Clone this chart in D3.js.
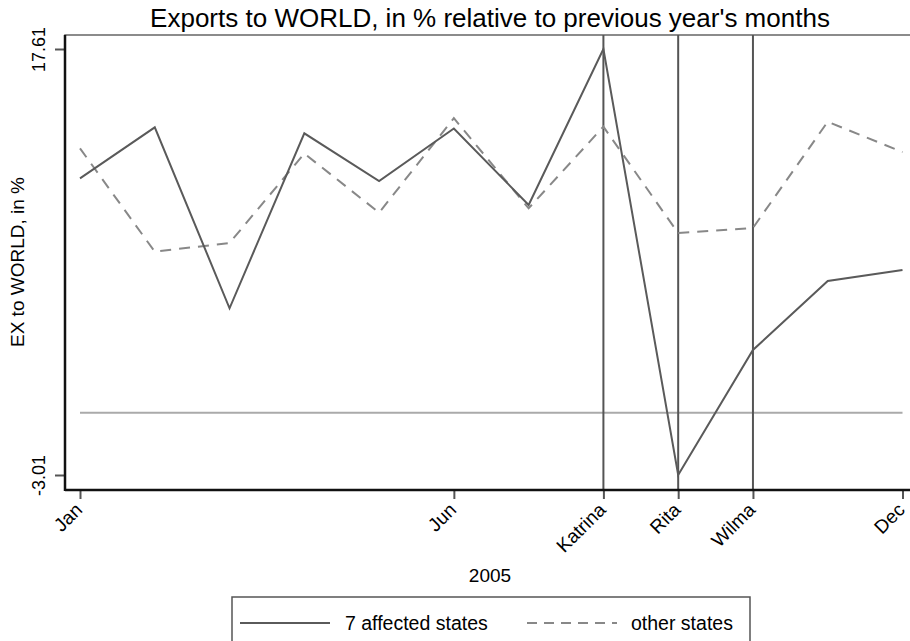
<!DOCTYPE html>
<html>
<head>
<meta charset="utf-8">
<script src="https://cdn.jsdelivr.net/npm/d3@7"></script>
<style>
  body { margin: 0; background: #fff; }
  text { font-family: "Liberation Sans", Arial, sans-serif; fill: #000; }
</style>
</head>
<body>
<div id="chart"></div>
<script>
// months 1..12 of 2005
var months = [1, 2, 3, 4, 5, 6, 7, 8, 9, 10, 11, 12];
var affected = [11.35, 13.82, 5.06, 13.53, 11.22, 13.76, 10.06, 17.61, -3.01, 3.04, 6.38, 6.91];
var others = [12.80, 7.80, 8.22, 12.55, 9.69, 14.26, 9.90, 13.85, 8.70, 8.95, 14.09, 12.62];
var tickMonths = [1, 6, 8, 9, 10, 12];
var tickLabels = ["Jan", "Jun", "Katrina", "Rita", "Wilma", "Dec"];
var hurricanes = [8, 9, 10];
var yTicks = [17.61, -3.01];
var yTickLabels = ["17.61", "-3.01"];

var W = 910, H = 641;
var plot = {left: 65, right: 912, top: 35, bottom: 490};

var x = d3.scaleLinear().domain([1, 12]).range([80, 902.5]);
var y = d3.scaleLinear().domain([-3.01, 17.61]).range([475, 49]);

var svg = d3.select("#chart").append("svg")
  .attr("width", W).attr("height", H);

// plot frame
svg.append("rect")
  .attr("x", plot.left).attr("y", plot.top)
  .attr("width", plot.right - plot.left).attr("height", plot.bottom - plot.top)
  .attr("fill", "none").attr("stroke", "#666").attr("stroke-width", 1.5);

// zero line
svg.append("line")
  .attr("x1", x(1)).attr("x2", x(12))
  .attr("y1", y(0)).attr("y2", y(0))
  .attr("stroke", "#aaa").attr("stroke-width", 2);

// hurricane lines
svg.selectAll(".hline").data(hurricanes).enter().append("line")
  .attr("x1", d => x(d)).attr("x2", d => x(d))
  .attr("y1", plot.top).attr("y2", plot.bottom)
  .attr("stroke", "#555").attr("stroke-width", 2);

var line = d3.line()
  .x(function(d, i) { return x(months[i]); })
  .y(function(d) { return y(d); });

svg.append("path").datum(others)
  .attr("d", line).attr("fill", "none")
  .attr("stroke", "#888").attr("stroke-width", 2)
  .attr("stroke-dasharray", "11,8");

svg.append("path").datum(affected)
  .attr("d", line).attr("fill", "none")
  .attr("stroke", "#5a5a5a").attr("stroke-width", 2);

// x axis
var xAxis = svg.append("g")
  .attr("transform", "translate(0," + plot.bottom + ")")
  .call(d3.axisBottom(x).tickValues(tickMonths)
    .tickFormat(function(d, i) { return tickLabels[i]; })
    .tickSize(9).tickSizeOuter(0));
xAxis.select(".domain").remove();
xAxis.selectAll(".tick line").attr("stroke", "#555").attr("stroke-width", 2);
xAxis.selectAll(".tick text")
  .attr("font-size", 19).attr("text-anchor", "end")
  .attr("dx", 0).attr("dy", 0).attr("y", 0)
  .attr("transform", "translate(3,21) rotate(-45)");

// y axis
var yAxis = svg.append("g")
  .attr("transform", "translate(" + plot.left + ",0)")
  .call(d3.axisLeft(y).tickValues(yTicks)
    .tickFormat(function(d, i) { return yTickLabels[i]; })
    .tickSize(10).tickSizeOuter(0));
yAxis.select(".domain").remove();
yAxis.selectAll(".tick line").attr("stroke", "#555").attr("stroke-width", 2);
yAxis.selectAll(".tick text")
  .attr("font-size", 18).attr("text-anchor", "middle")
  .attr("x", 0).attr("dy", 0)
  .attr("transform", "translate(-20,0) rotate(-90)");

// axis lines
svg.append("line")
  .attr("x1", plot.left).attr("x2", plot.right)
  .attr("y1", plot.bottom).attr("y2", plot.bottom)
  .attr("stroke", "#111").attr("stroke-width", 2.5);
svg.append("line")
  .attr("x1", plot.left).attr("x2", plot.left)
  .attr("y1", plot.top).attr("y2", plot.bottom + 1)
  .attr("stroke", "#111").attr("stroke-width", 2.5);

// titles
svg.append("text")
  .attr("x", 490).attr("y", 27)
  .attr("text-anchor", "middle").attr("font-size", 26)
  .text("Exports to WORLD, in % relative to previous year's months");

svg.append("text")
  .attr("transform", "translate(24,262) rotate(-90)")
  .attr("text-anchor", "middle").attr("font-size", 19)
  .text("EX to WORLD, in %");

svg.append("text")
  .attr("x", 490).attr("y", 582)
  .attr("text-anchor", "middle").attr("font-size", 19)
  .text("2005");

// legend
var leg = svg.append("g");
leg.append("rect")
  .attr("x", 232).attr("y", 597).attr("width", 518).attr("height", 50)
  .attr("fill", "none").attr("stroke", "#555").attr("stroke-width", 1.5);
leg.append("line")
  .attr("x1", 240).attr("x2", 330).attr("y1", 623).attr("y2", 623)
  .attr("stroke", "#5a5a5a").attr("stroke-width", 2);
leg.append("text").attr("x", 345).attr("y", 630).attr("font-size", 19.5)
  .text("7 affected states");
leg.append("line")
  .attr("x1", 527).attr("x2", 617).attr("y1", 623).attr("y2", 623)
  .attr("stroke", "#888").attr("stroke-width", 2)
  .attr("stroke-dasharray", "10,7");
leg.append("text").attr("x", 631).attr("y", 630).attr("font-size", 19.5)
  .text("other states");
</script>
</body>
</html>
